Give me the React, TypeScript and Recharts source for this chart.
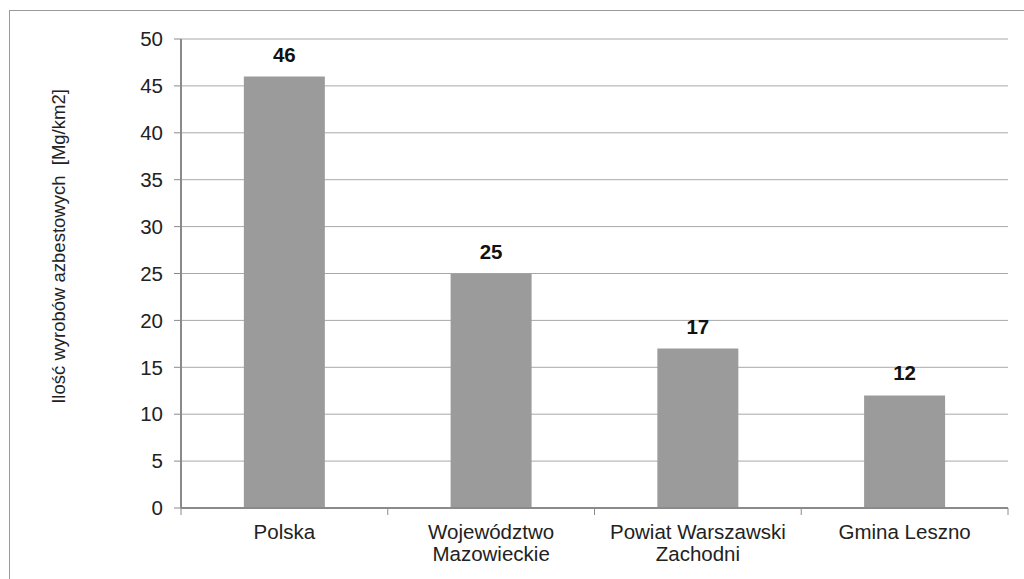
import React from "react"
import { BarChart, Bar, XAxis, YAxis, CartesianGrid, LabelList } from "recharts"

const categories = ["Polska", "Województwo Mazowieckie", "Powiat Warszawski Zachodni", "Gmina Leszno"]
const tickLines = [["Polska"], ["Województwo", "Mazowieckie"], ["Powiat Warszawski", "Zachodni"], ["Gmina Leszno"]]
const values = [46, 25, 17, 12]
const yTicks = [0, 5, 10, 15, 20, 25, 30, 35, 40, 45, 50]
const yLabel = "Ilość wyrobów azbestowych\u00a0 [Mg/km2]"

const data = categories.map((name, i) => ({ name, value: values[i] }))

const FONT = "'Liberation Sans', Arial, sans-serif"
const BORDER = "#8a8a8a"

function CategoryTick(props: any) {
  const { x, y, payload, index } = props
  const half = payload?.offset ?? 103
  const lines = tickLines[index] ?? [payload.value]
  return (
    <g>
      <line x1={x - half} x2={x - half} y1={y} y2={y + 7} stroke={BORDER} />
      {index === categories.length - 1 && (
        <line x1={x + half} x2={x + half} y1={y} y2={y + 7} stroke={BORDER} />
      )}
      <text x={x} y={y + 31} textAnchor="middle" fill="#222" fontSize={20.5} fontFamily={FONT}>
        {lines.map((l: string, i: number) => (
          <tspan key={i} x={x} dy={i === 0 ? 0 : 22}>{l}</tspan>
        ))}
      </text>
    </g>
  )
}

function AxisTitle(props: any) {
  const vb = props.viewBox || { x: 0, y: 39, width: 181, height: 469 }
  const cx = vb.x + 58
  const cy = vb.y + vb.height / 2 - 27
  return (
    <text
      x={cx}
      y={cy}
      transform={`rotate(-90, ${cx}, ${cy})`}
      textAnchor="middle"
      dominantBaseline="central"
      fill="#222"
      fontSize={18.5}
      fontFamily={FONT}
    >
      {yLabel}
    </text>
  )
}

export default function App() {
  return (
    <div style={{ position: "absolute", left: 0, top: 0, width: 1024, height: 579, background: "#fff", overflow: "hidden" }}>
      <div style={{ position: "absolute", left: 9, top: 10, width: 1040, height: 600, border: "1px solid #9a9a9a" }} />
      <div style={{ position: "absolute", left: 0, top: 0 }}>
        <BarChart
          width={1024}
          height={579}
          data={data}
          margin={{ top: 39, right: 16, bottom: 41, left: 0 }}
          barCategoryGap="30.4%"
          style={{ fontFamily: FONT }}
        >
          <CartesianGrid vertical={false} stroke="#a8a8a8" />
          <XAxis
            dataKey="name"
            height={30}
            interval={0}
            tickLine={false}
            tickSize={0}
            tickMargin={0}
            axisLine={{ stroke: BORDER, strokeWidth: 2 }}
            tick={<CategoryTick />}
          />
          <XAxis xAxisId="top" dataKey="name" orientation="top" height={0} tick={false} tickLine={false} axisLine={{ stroke: BORDER, strokeWidth: 2 }} />
          <YAxis
            width={181}
            domain={[0, 50]}
            ticks={yTicks}
            interval={0}
            tickSize={7}
            tickMargin={11}
            tickLine={{ stroke: BORDER }}
            axisLine={{ stroke: BORDER, strokeWidth: 2 }}
            tick={{ fill: "#222", fontSize: 20.5, fontFamily: FONT }}
            label={<AxisTitle />}
          />
          <YAxis yAxisId="right" orientation="right" width={0} domain={[0, 50]} tick={false} tickLine={false} axisLine={{ stroke: BORDER, strokeWidth: 2 }} />
          <Bar dataKey="value" fill="#9b9b9b" isAnimationActive={false}>
            <LabelList dataKey="value" position="top" offset={15} fill="#111" fontSize={20.5} fontWeight="bold" fontFamily={FONT} />
          </Bar>
        </BarChart>
      </div>
    </div>
  )
}
